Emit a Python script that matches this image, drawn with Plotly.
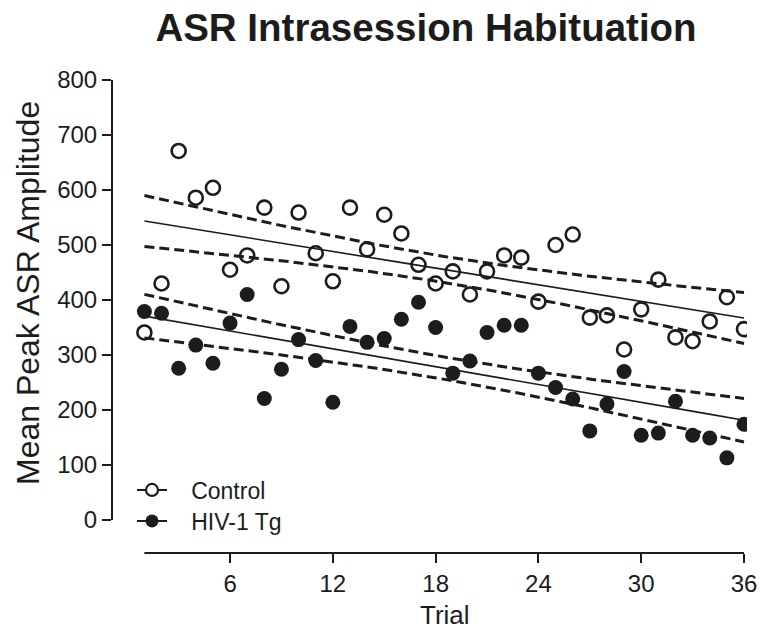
import numpy as np
import plotly.graph_objects as go

trials = list(range(1, 37))
control = [341, 430, 671, 586, 604, 455, 481, 568, 425, 559, 485, 434,
           568, 492, 555, 521, 464, 430, 452, 410, 452, 481, 477, 397,
           500, 519, 368, 372, 310, 383, 437, 332, 325, 361, 405, 347]
hiv = [379, 376, 276, 318, 285, 358, 410, 221, 274, 328, 290, 214,
       352, 323, 330, 365, 396, 350, 267, 289, 341, 354, 354, 267,
       241, 220, 162, 211, 270, 154, 158, 216, 154, 149, 113, 174]
y_ticks = [0, 100, 200, 300, 400, 500, 600, 700, 800]
x_ticks = [6, 12, 18, 24, 30, 36]
T_CRIT = 2.032  # two-sided 95%, df = 34

INK = "#1c1c1c"
FONT = "Liberation Sans, Arial, sans-serif"

# plot-area geometry (pixels)
L, R, TOP, BOT = 112, 747, 80, 553
PW, PH = R - L, BOT - TOP


def px_x(p):
    return (p - L) / PW


def px_y(p):
    return (BOT - p) / PH


def fit_with_band(x, y):
    x = np.asarray(x, float)
    y = np.asarray(y, float)
    b, a = np.polyfit(x, y, 1)
    yhat = a + b * x
    n = len(x)
    s = np.sqrt(np.sum((y - yhat) ** 2) / (n - 2))
    xs = np.linspace(x.min(), x.max(), 200)
    sxx = np.sum((x - x.mean()) ** 2)
    se = s * np.sqrt(1 / n + (xs - x.mean()) ** 2 / sxx)
    mid = a + b * xs
    return xs, mid, mid - T_CRIT * se, mid + T_CRIT * se


fig = go.Figure()

for ys in (control, hiv):
    xs, mid, lo, hi = fit_with_band(trials, ys)
    fig.add_trace(go.Scatter(x=xs, y=mid, mode="lines", showlegend=False,
                             line=dict(color=INK, width=1.6), hoverinfo="skip"))
    for band in (lo, hi):
        fig.add_trace(go.Scatter(x=xs, y=band, mode="lines", showlegend=False,
                                 line=dict(color=INK, width=3, dash="10px,5px"),
                                 hoverinfo="skip"))

fig.add_trace(go.Scatter(x=trials, y=control, mode="markers", showlegend=False,
                         marker=dict(symbol="circle-open", size=14, color=INK,
                                     line=dict(width=2.6, color=INK))))
fig.add_trace(go.Scatter(x=trials, y=hiv, mode="markers", showlegend=False,
                         marker=dict(symbol="circle", size=15, color=INK,
                                     line=dict(width=0))))

# legend entries
fig.add_trace(go.Scatter(x=[None], y=[None], mode="lines+markers",
                         name="&nbsp;&nbsp;&nbsp;Control", legend="legend",
                         line=dict(color=INK, width=2),
                         marker=dict(symbol="circle", size=12, color="white",
                                     line=dict(width=2.2, color=INK))))
fig.add_trace(go.Scatter(x=[None], y=[None], mode="lines+markers",
                         name="&nbsp;&nbsp;&nbsp;HIV-1 Tg", legend="legend2",
                         line=dict(color=INK, width=2),
                         marker=dict(symbol="circle", size=13, color=INK)))

legend_common = dict(xanchor="left", yanchor="middle",
                     bgcolor="rgba(0,0,0,0)", borderwidth=0,
                     font=dict(size=23, family=FONT, color=INK))

fig.update_layout(
    width=760, height=635,
    margin=dict(l=L, r=760 - R, t=TOP, b=635 - BOT, autoexpand=False),
    paper_bgcolor="white", plot_bgcolor="white",
    font=dict(family=FONT, color=INK),
    title=dict(text="<b>ASR Intrasession Habituation</b>",
               font=dict(size=38.5, family=FONT, color=INK),
               x=426 / 760, xref="container", xanchor="center",
               y=1 - 28 / 635, yref="container", yanchor="middle"),
    xaxis=dict(range=[1 - (144.4 - L) / 17.13, 36 + (R - 744) / 17.13],
               tickvals=x_ticks, ticks="outside", automargin=False,
               ticklen=9, tickwidth=2, tickcolor=INK, showline=False,
               showgrid=False, zeroline=False,
               tickfont=dict(size=24, family=FONT, color=INK)),
    yaxis=dict(range=[-(BOT - 520) / 0.55, 800], tickvals=y_ticks,
               ticks="outside", automargin=False,
               ticklen=9, tickwidth=2, tickcolor=INK, showline=False,
               showgrid=False, zeroline=False,
               tickfont=dict(size=24, family=FONT, color=INK)),
    legend=dict(x=px_x(132), y=px_y(490), **legend_common),
    legend2=dict(x=px_x(132), y=px_y(521), **legend_common),
    showlegend=True,
    shapes=[
        dict(type="line", xref="paper", x0=0, x1=0, yref="y", y0=0, y1=800,
             line=dict(color=INK, width=2)),
        dict(type="line", xref="x", x0=1, x1=36, yref="paper", y0=0, y1=0,
             line=dict(color=INK, width=2)),
    ],
    annotations=[
        dict(text="Mean Peak ASR Amplitude", textangle=-90, showarrow=False,
             xref="paper", x=px_x(28), xanchor="center",
             yref="paper", y=px_y(293), yanchor="middle",
             font=dict(size=32, family=FONT, color=INK)),
        dict(text="Trial", showarrow=False,
             xref="paper", x=px_x(445), xanchor="center",
             yref="paper", y=px_y(615), yanchor="middle",
             font=dict(size=26, family=FONT, color=INK)),
    ],
)

fig.write_html("out.html",
               config={"displayModeBar": False},
               post_script="document.body.style.margin='0';"
                           "document.body.style.overflow='hidden';")
